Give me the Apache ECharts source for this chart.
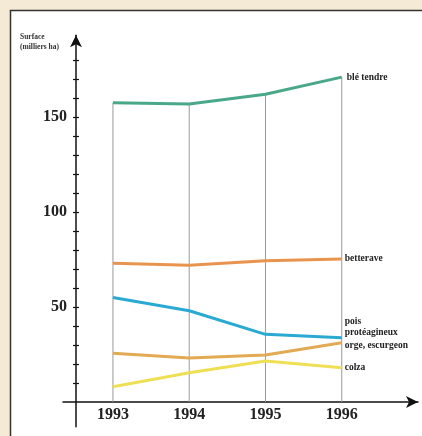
<!DOCTYPE html>
<html><head><meta charset="utf-8">
<script src="https://cdn.jsdelivr.net/npm/echarts@6/dist/echarts.min.js"></script>
<style>html,body{margin:0;padding:0;background:#f5ead6;}#c{width:422px;height:436px;}</style>
</head><body><div id="c"></div>
<script>
const years = [1993, 1994, 1995, 1996];
const bleTendre = [157.5, 156.8, 162, 171];
const betterave = [73, 72, 74.4, 75.3];
const poisProteagineux = [55, 48, 35.6, 33.8];
const orgeEscourgeon = [25.6, 23.2, 24.7, 31.2];
const colza = [8, 15.4, 21.6, 18];
const yLabelValues = [50, 100, 150];
const yTickValues = [10,20,30,40,50,60,70,80,90,100,110,120,130,140,150,160,170,180,190];
const axisTitle = 'Surface\n(milliers ha)';

const seriesDefs = [
  {name: 'blé tendre', data: bleTendre, color: '#4aa88a', offset: [5, 0]},
  {name: 'betterave', data: betterave, color: '#e8944f', offset: [3, 0]},
  {name: 'pois\nprotéagineux', data: poisProteagineux, color: '#2aa9d2', offset: [3, -11]},
  {name: 'orge, escurgeon', data: orgeEscourgeon, color: '#e2aa52', offset: [3, 3]},
  {name: 'colza', data: colza, color: '#eedf55', offset: [3, 0]}
];

const labelFont = {fontFamily: 'Liberation Serif', fontWeight: 'bold', fontSize: 9.5, color: '#222', lineHeight: 11};

const chart = echarts.init(document.getElementById('c'), null, {renderer: 'canvas'});
const pair = arr => arr.map((v, i) => [years[i], v]);

const option = {
  animation: false,
  backgroundColor: '#f5ead6',
  graphic: [
    {type: 'rect', z: -10, shape: {x: 10.5, y: 10.5, width: 420, height: 430}, style: {fill: '#ffffff', stroke: '#333', lineWidth: 1.5}},
    {type: 'text', left: 20, top: 32, z: 10, style: {text: axisTitle, fontFamily: 'Liberation Serif', fontWeight: 'bold', fontSize: 7.5, lineHeight: 10, fill: '#333'}}
  ],
  grid: {left: 63, right: 4, top: 35.3, bottom: 9.3, containLabel: false, outerBoundsMode: 'none'},
  xAxis: {
    type: 'value', min: 1992.345, max: 1997,
    splitLine: {show: false},
    axisLine: {onZero: true, lineStyle: {color: '#111', width: 1.5}, symbol: ['none', 'arrow'], symbolSize: [9, 12], symbolOffset: [0, 0]},
    axisTick: {show: false},
    axisLabel: {customValues: years, formatter: v => String(v), margin: -20, fontFamily: 'Liberation Serif', fontWeight: 'bold', fontSize: 16, color: '#222'}
  },
  yAxis: [{
    type: 'value', min: -13, max: 193, offset: -13,
    splitLine: {show: false},
    axisLine: {show: true, lineStyle: {color: '#111', width: 1.5}, symbol: ['none', 'arrow'], symbolSize: [9, 12]},
    axisTick: {show: true, customValues: yTickValues, length: 3, lineStyle: {color: '#111', width: 1.2}},
    axisLabel: {customValues: yLabelValues, margin: 9, fontFamily: 'Liberation Serif', fontWeight: 'bold', fontSize: 16, color: '#222'}
  }, {
    type: 'value', min: -13, max: 193, offset: -13, position: 'left',
    splitLine: {show: false},
    axisLine: {show: false},
    axisTick: {show: true, inside: true, customValues: yTickValues, length: 3, lineStyle: {color: '#111', width: 1.2}},
    axisLabel: {show: false}
  }],
  series: [
    {type: 'bar', data: pair(bleTendre), barWidth: 1, itemStyle: {color: '#9a9a9a'}, z: 1, silent: true}
  ].concat(seriesDefs.map(s => ({
    type: 'line', name: s.name, data: pair(s.data), z: 3,
    showSymbol: false, symbol: 'none',
    lineStyle: {color: s.color, width: 3},
    endLabel: Object.assign({show: true, formatter: s.name, offset: s.offset, distance: 0, align: 'left'}, labelFont)
  })))
};
chart.setOption(option);
</script></body></html>
